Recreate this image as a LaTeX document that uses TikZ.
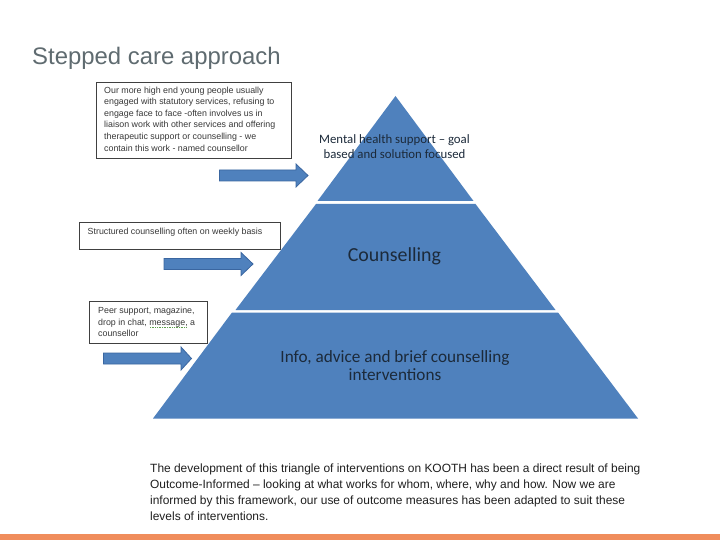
\documentclass[tikz,border=0pt]{standalone}
\usepackage{fontspec}
\setmainfont{Liberation Sans}
\newfontfamily\carl{Carlito}
\definecolor{tier}{HTML}{4F81BD}
\definecolor{arrowedge}{HTML}{3A66A0}
\definecolor{titlegray}{HTML}{5F6B70}
\definecolor{band}{HTML}{F08D5C}
\definecolor{inkdark}{HTML}{1C2A3A}
\definecolor{squiggle}{HTML}{5FA04E}
\tikzset{
  tier/.style={fill=tier,draw=none},
  notebox/.style={draw=black!75,line width=0.9pt,fill=white},
  bluearrow/.style={fill=tier,draw=arrowedge,line width=0.8pt},
  notetext/.style={anchor=north west,align=left,inner sep=0pt,text=black!78,font=\fontsize{8.85}{11.6}\selectfont},
  tiertext/.style={align=center,inner sep=0pt,text=inkdark},
}
\begin{document}
\begin{tikzpicture}[x=1pt,y=-1pt]
\useasboundingbox (0,0) rectangle (720,540);
\fill[white] (0,0) rectangle (720,540);
\fill[band] (0,534) rectangle (720,540);
\node[anchor=base west,inner sep=0pt,text=titlegray,font=\fontsize{23.9}{28}\selectfont] (title) at (32,65) {Stepped care approach};
% pyramid
\fill[tier] (395.5,96) -- (473.5,201) -- (317.5,201) -- cycle;
\fill[tier] (316,204) -- (475.5,204) -- (555.5,310) -- (235.5,310) -- cycle;
\fill[tier] (232,312.5) -- (558,312.5) -- (638,418.5) -- (153,418.5) -- cycle;
\node[tiertext,font=\carl\fontsize{12.8}{15.4}\selectfont] (t1) at (394.5,146.5) {Mental health support – goal\\based and solution focused};
\node[tiertext,font=\carl\fontsize{19.9}{23}\selectfont] (t2) at (394.5,256) {Counselling};
\node[tiertext,font=\carl\fontsize{17.2}{18.4}\selectfont] (t3) at (395,365.5) {Info, advice and brief counselling\\interventions};
% note boxes
\draw[notebox] (96,82) rectangle (291,158);
\node[notetext] (n1) at (104,86.5) {Our more high end young people usually\\engaged with statutory services, refusing to\\engage face to face -often involves us in\\liaison work with other services and offering\\therapeutic support or counselling - we\\contain this work - named counsellor};
\draw[notebox] (79.5,222) rectangle (280,249);
\node[notetext] (n2) at (87.5,228) {Structured counselling often on weekly basis};
\draw[notebox] (89.5,301) rectangle (207,343);
\node[notetext] (n3) at (98,307) {Peer support, magazine,\\drop in chat, message, a\\counsellor};
\draw[squiggle,densely dotted,line width=0.7pt] (150,327) -- (186,327);
% arrows
\draw[bluearrow] (219.5,170) -- (296,170) -- (296,164) -- (308,175.5) -- (296,187) -- (296,181) -- (219.5,181) -- cycle;
\draw[bluearrow] (164,258.5) -- (241,258.5) -- (241,252.5) -- (253,264) -- (241,275.5) -- (241,269.5) -- (164,269.5) -- cycle;
\draw[bluearrow] (103.5,353) -- (181,353) -- (181,347) -- (191.5,358.5) -- (181,370) -- (181,364) -- (103.5,364) -- cycle;
% caption
\node[anchor=north west,align=left,inner sep=0pt,text=black!88,font=\fontsize{11.95}{15.8}\selectfont] (cap) at (150,464) {The development of this triangle of interventions on KOOTH has been a direct result of being\\Outcome-Informed – looking at what works for whom, where, why and how.  Now we are\\informed by this framework, our use of outcome measures has been adapted to suit these\\levels of interventions.};
\end{tikzpicture}
\end{document}
